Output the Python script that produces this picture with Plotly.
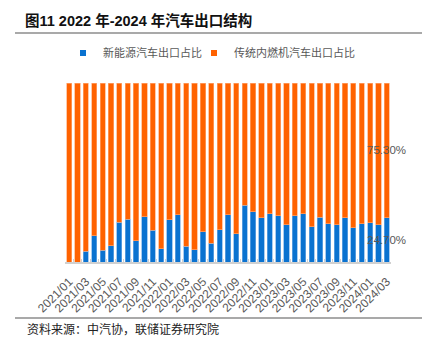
import plotly.graph_objects as go

# Monthly car export mix, 2021/01 - 2024/03 (share of total exports, %)
months = [f"{y}/{m:02d}" for y in (2021, 2022, 2023) for m in range(1, 13)] + ["2024/01", "2024/02", "2024/03"]
nev_share = [0.0, 0.0, 6.1, 14.7, 6.5, 9.2, 22.2, 24.0, 12.0, 25.4, 17.8, 7.3,
             23.6, 26.4, 8.7, 6.9, 16.9, 10.6, 18.0, 26.4, 15.9, 31.7, 28.1, 24.7,
             27.0, 25.9, 20.8, 25.9, 27.0, 19.7, 25.0, 21.4, 20.8, 24.7, 19.2, 21.4,
             22.0, 20.8, 24.7]
ice_share = [round(100 - v, 1) for v in nev_share]
tick_text = [m if i % 2 == 0 else "" for i, m in enumerate(months)]

W, H = 437, 337
L, R, T, B = 65, 391, 83, 262  # plot area in pixels

def px(x):
    return (x - L) / (R - L)

def py(y):
    return (B - y) / (B - T)

BLUE = "#0A72D0"
ORANGE = "#FF6200"
GRAY_TXT = "#595959"
FONT = "Liberation Sans, Arial, Noto Sans CJK SC, sans-serif"

fig = go.Figure()
fig.add_bar(x=months, y=nev_share, marker=dict(color=BLUE, line=dict(color="rgba(120,175,230,0.8)", width=0.8)),
            showlegend=False, name="新能源汽车出口占比")
fig.add_bar(x=months, y=ice_share, marker=dict(color=ORANGE, line=dict(color="rgba(255,170,120,0.8)", width=0.8)),
            showlegend=False, name="传统内燃机汽车出口占比")

# legend entries with small square swatches, one legend box each
fig.add_scatter(x=[None], y=[None], mode="markers", name="新能源汽车出口占比", legend="legend",
                marker=dict(symbol="square", size=6, color=BLUE))
fig.add_scatter(x=[None], y=[None], mode="markers", name="传统内燃机汽车出口占比", legend="legend2",
                marker=dict(symbol="square", size=6, color=ORANGE))

# value labels on the latest month
last = months[-1]
fig.add_annotation(x=last, y=nev_share[-1] / 2, text=f"{nev_share[-1]:.2f}%", showarrow=False,
                   font=dict(size=11.5, color=GRAY_TXT, family=FONT), xref="x", yref="y")
fig.add_annotation(x=last, y=nev_share[-1] + ice_share[-1] / 2, text=f"{ice_share[-1]:.2f}%", showarrow=False,
                   font=dict(size=11.5, color=GRAY_TXT, family=FONT), xref="x", yref="y")

# source note
fig.add_annotation(x=px(25), y=py(328), xref="paper", yref="paper", xanchor="left", yanchor="middle",
                   text="资料来源：中汽协，联储证券研究院", showarrow=False,
                   font=dict(size=12, color="#222222", family="Noto Sans CJK SC, sans-serif"))

# rules under the title and above the source
for yy in (33, 318):
    fig.add_shape(type="line", xref="paper", yref="paper", x0=px(15), x1=px(422), y0=py(yy), y1=py(yy),
                  line=dict(color="#8c8c8c", width=1.5))

legend_style = dict(orientation="h", y=py(53), xanchor="left", yanchor="middle",
                    font=dict(size=11, color=GRAY_TXT, family=FONT), itemwidth=30,
                    bgcolor="rgba(0,0,0,0)")

fig.update_layout(
    width=W, height=H,
    margin=dict(l=L, r=W - R, t=T, b=H - B, pad=0),
    barmode="stack", bargap=0.38,
    paper_bgcolor="white", plot_bgcolor="white",
    title=dict(text="<b>图11 2022 年-2024 年汽车出口结构</b>", xref="container", yref="container",
               x=25 / W, y=1 - 21 / H, xanchor="left", yanchor="middle",
               font=dict(size=14.5, color="#111111", family=FONT)),
    legend=dict(x=px(63), **legend_style),
    legend2=dict(x=px(194), **legend_style),
    xaxis=dict(type="category", categoryorder="array", categoryarray=months,
               range=[-0.5, len(months) - 0.5],
               tickvals=months, ticktext=tick_text, tickangle=-45, tickson="boundaries",
               ticks="inside", ticklen=3, tickcolor="#d0d0d0", tickwidth=1, ticklabelstandoff=6,
               showline=True, linecolor="#d0d0d0", linewidth=2, automargin=False,
               tickfont=dict(size=12, color=GRAY_TXT, family=FONT), showgrid=False, zeroline=False),
    yaxis=dict(range=[0, 100], visible=False, showgrid=False, zeroline=False, automargin=False),
    font=dict(family=FONT),
)

fig.write_html("out.html")
